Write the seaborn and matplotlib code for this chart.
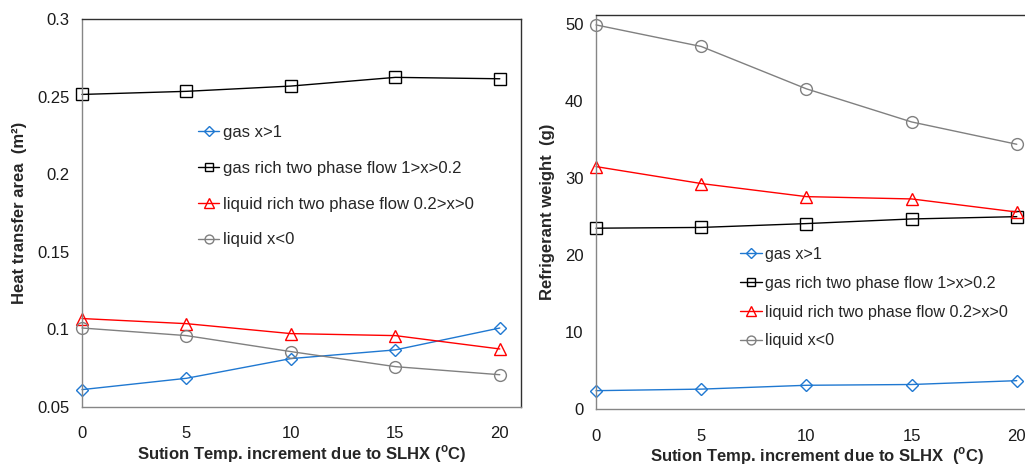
import matplotlib
matplotlib.use("Agg")
import matplotlib.pyplot as plt
import seaborn as sns
from matplotlib.ticker import FuncFormatter

sns.set_style("white")
plt.rcParams["font.family"] = ["Liberation Sans", "DejaVu Sans"]
plt.rcParams["mathtext.fontset"] = "custom"
plt.rcParams["mathtext.rm"] = "Liberation Sans"
plt.rcParams["mathtext.bf"] = "Liberation Sans:bold"

# data
temp_inc = [0, 5, 10, 15, 20]
labels = ["gas x>1", "gas rich two phase flow 1>x>0.2",
          "liquid rich two phase flow 0.2>x>0", "liquid x<0"]

area_gas = [0.0612, 0.0685, 0.0812, 0.0868, 0.1009]
area_gas_rich = [0.2514, 0.2534, 0.2568, 0.2624, 0.2615]
area_liq_rich = [0.1070, 0.1037, 0.0973, 0.0960, 0.0874]
area_liq = [0.1009, 0.0960, 0.0857, 0.0760, 0.0708]

wt_gas = [2.4, 2.6, 3.1, 3.2, 3.7]
wt_gas_rich = [23.5, 23.6, 24.1, 24.7, 25.0]
wt_liq_rich = [31.5, 29.3, 27.6, 27.3, 25.6]
wt_liq = [49.9, 47.1, 41.6, 37.3, 34.4]

colors = ["#1f78d1", "black", "red", "#808080"]
markers = ["D", "s", "^", "o"]
msizes = [6.5, 8.5, 9, 8.5]

fig = plt.figure(figsize=(10.25, 4.66), dpi=100)
ax1 = fig.add_axes([0.080, 0.1266, 0.428, 0.8326])
ax2 = fig.add_axes([0.5815, 0.122, 0.431, 0.846])


def draw(ax, series):
    for vals, c, m, ms, lab in zip(series, colors, markers, msizes, labels):
        sns.lineplot(x=temp_inc, y=vals, ax=ax, color=c, marker=m,
                     markersize=ms, markerfacecolor="none", markeredgecolor=c,
                     markeredgewidth=1.0, linewidth=1.0, label=lab, clip_on=False)
    ax.set_xlim(0, 21)
    ax.set_xticks(temp_inc)
    ax.spines["left"].set_color("#868686")
    ax.spines["bottom"].set_color("#868686")
    ax.spines["top"].set_color("#303030")
    ax.spines["right"].set_color("#303030")
    for s in ax.spines.values():
        s.set_linewidth(1.0)
    ax.tick_params(axis="both", which="both", length=4, width=1, color="#868686",
                   direction="out", labelsize=12, labelcolor="#1a1a1a", pad=5)
    ax.tick_params(axis="x", pad=10)
    ax.yaxis.set_major_formatter(FuncFormatter(lambda v, p: f"{v:g}"))


draw(ax1, [area_gas, area_gas_rich, area_liq_rich, area_liq])
ax1.set_ylim(0.05, 0.3)
ax1.set_yticks([0.05, 0.1, 0.15, 0.2, 0.25, 0.3])
ax1.set_ylabel("Heat transfer area  (m²)", fontsize=12, fontweight="bold", labelpad=7)
ax1.set_xlabel(r"Sution Temp. increment due to SLHX ($^{\mathbf{o}}$C)", fontsize=12,
               fontweight="bold", labelpad=1)
ax1.legend(loc="upper left", bbox_to_anchor=(0.264, 0.727), frameon=False,
           fontsize=12, handlelength=1.3, handletextpad=0.2, labelspacing=1.25,
           borderpad=0, borderaxespad=0, markerscale=0.75)

draw(ax2, [wt_gas, wt_gas_rich, wt_liq_rich, wt_liq])
ax2.set_ylim(0, 51.2)
ax2.set_yticks([0, 10, 20, 30, 40, 50])
ax2.set_ylabel("Refrigerant weight  (g)", fontsize=12, fontweight="bold", labelpad=7)
ax2.set_xlabel(r"Sution Temp. increment due to SLHX  ($^{\mathbf{o}}$C)", fontsize=12,
               fontweight="bold", labelpad=1)
ax2.legend(loc="upper left", bbox_to_anchor=(0.326, 0.411), frameon=False,
           fontsize=11.6, handlelength=1.35, handletextpad=0.2, labelspacing=0.85,
           borderpad=0, borderaxespad=0, markerscale=0.75)

fig.savefig("out.png", dpi=100)
